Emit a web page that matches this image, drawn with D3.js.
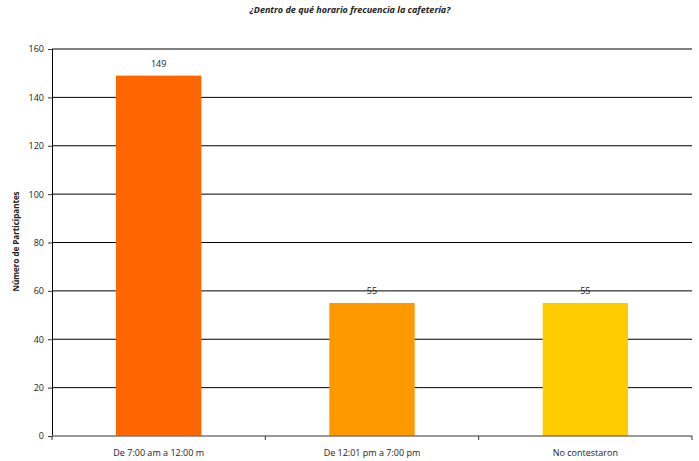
<!DOCTYPE html>
<html>
<head>
<meta charset="utf-8">
<script src="https://cdn.jsdelivr.net/npm/d3@7"></script>
<style>
  body { margin: 0; background: #fff; }
  text { font-family: "Open Sans", "Liberation Sans", sans-serif; fill: #222; }
</style>
</head>
<body>
<div id="chart"></div>
<script>
// chart data
const categories = ["De 7:00 am a 12:00 m", "De 12:01 pm a 7:00 pm", "No contestaron"];
const participants = [149, 55, 55];
const barColors = ["#ff6600", "#ff9900", "#ffcc00"];
const yTicks = [0, 20, 40, 60, 80, 100, 120, 140, 160];

const W = 699, H = 461;
const margin = { top: 49, right: 7, bottom: 25, left: 52 };
const width = W - margin.left - margin.right;
const height = H - margin.top - margin.bottom;

const svg = d3.select("#chart")
    .append("svg")
    .attr("width", W)
    .attr("height", H)
    .append("g")
    .attr("transform", `translate(${margin.left},${margin.top})`);

// title
svg.append("text")
    .attr("x", 350 - margin.left)
    .attr("y", -36)
    .attr("text-anchor", "middle")
    .style("font-size", "9px")
    .style("font-weight", "bold")
    .style("font-style", "italic")
    .text("¿Dentro de qué horario frecuencia la cafetería?");

const x = d3.scaleBand()
    .domain(categories)
    .range([0, width])
    .paddingInner(0.6)
    .paddingOuter(0.3);

const y = d3.scaleLinear()
    .domain([0, 160])
    .range([height, 0]);

// gridlines
svg.append("g")
    .selectAll("line")
    .data(yTicks.filter(d => d > 0))
    .enter()
    .append("line")
    .attr("x1", 0)
    .attr("x2", width)
    .attr("y1", d => y(d))
    .attr("y2", d => y(d))
    .attr("stroke", "#000")
    .attr("stroke-width", 1);

// bars
svg.selectAll("rect.bar")
    .data(participants)
    .enter()
    .append("rect")
    .attr("class", "bar")
    .attr("x", (d, i) => x(categories[i]))
    .attr("y", d => y(d))
    .attr("width", x.bandwidth())
    .attr("height", d => height - y(d))
    .attr("fill", (d, i) => barColors[i]);

// value labels
svg.selectAll("text.val")
    .data(participants)
    .enter()
    .append("text")
    .attr("class", "val")
    .attr("x", (d, i) => x(categories[i]) + x.bandwidth() / 2)
    .attr("y", d => y(d) - 9)
    .attr("text-anchor", "middle")
    .style("font-size", "9px")
    .text(d => d);

// y axis
const yAxis = svg.append("g")
    .call(d3.axisLeft(y).tickValues(yTicks).tickSize(4).tickPadding(4));
yAxis.selectAll("text").style("font-size", "9px");
yAxis.select(".domain").attr("stroke", "#000");
yAxis.selectAll(".tick line").attr("stroke", "#333");

// x axis with ticks between categories
const xAxis = svg.append("g")
    .attr("transform", `translate(0,${height})`);
xAxis.append("line")
    .attr("x1", 0).attr("x2", width)
    .attr("stroke", "#777").attr("stroke-width", 1.5);
const step = width / categories.length;
xAxis.selectAll("line.tk")
    .data(d3.range(categories.length + 1))
    .enter()
    .append("line")
    .attr("class", "tk")
    .attr("x1", d => d * step).attr("x2", d => d * step)
    .attr("y1", 0).attr("y2", 4)
    .attr("stroke", "#333");
xAxis.selectAll("text")
    .data(categories)
    .enter()
    .append("text")
    .attr("x", d => x(d) + x.bandwidth() / 2)
    .attr("y", 20)
    .attr("text-anchor", "middle")
    .style("font-size", "9px")
    .text(d => d);

// y axis label
svg.append("text")
    .attr("transform", "rotate(-90)")
    .attr("x", -height / 2 + 1)
    .attr("y", -33)
    .attr("text-anchor", "middle")
    .style("font-size", "8px")
    .style("font-weight", "bold")
    .text("Número de Participantes");
</script>
</body>
</html>
